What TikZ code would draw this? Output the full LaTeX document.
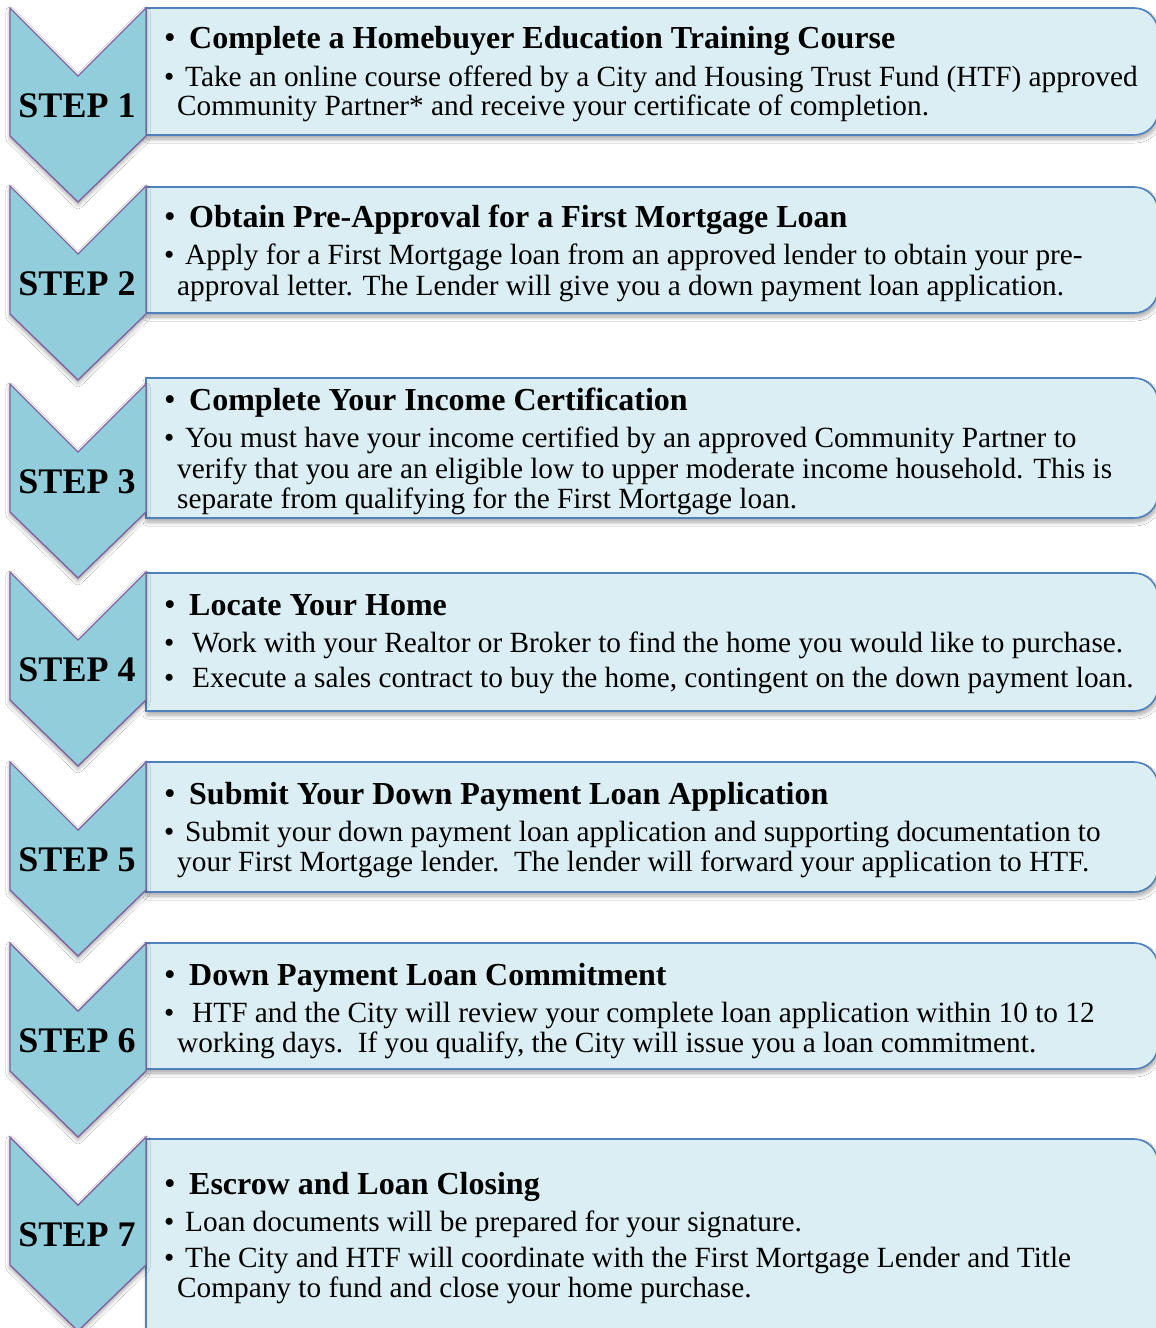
\documentclass[tikz,border=0pt]{standalone}
\usepackage{fontspec}
\setmainfont{Liberation Serif}
\usetikzlibrary{shadows.blur}
\definecolor{chevfill}{HTML}{92CDDC}
\definecolor{chevline}{HTML}{8064A2}
\definecolor{boxfill}{HTML}{DAEEF3}
\definecolor{boxline}{HTML}{4F81BD}
\tikzset{
  x=1pt, y=-1pt,
  chev/.style={fill=chevfill, draw=chevline, line width=1.4pt, line join=miter,
    blur shadow={shadow xshift=0pt, shadow yshift=-3pt, shadow blur steps=8, shadow blur radius=4pt, shadow opacity=35}},
  boxshape/.style={fill=boxfill, draw=boxline, line width=1.6pt,
    blur shadow={shadow xshift=1pt, shadow yshift=-4pt, shadow blur steps=8, shadow blur radius=4pt, shadow opacity=35}},
  steplabel/.style={font=\fontsize{36}{40}\selectfont\bfseries, anchor=base, inner sep=0pt},
  ttl/.style={font=\fontsize{32}{34}\selectfont\bfseries, anchor=base west, inner sep=0pt},
  txt/.style={font=\fontsize{29.3}{31}\selectfont, anchor=base west, inner sep=0pt},
  bul/.style={font=\fontsize{29.3}{31}\selectfont, anchor=base west, inner sep=0pt},
  tbul/.style={font=\fontsize{33}{35}\selectfont, anchor=base west, inner sep=0pt},
}
% chevron with top y=#1
\newcommand{\mychev}[1]{%
  \path[chev] (10,#1) -- (78,#1+68) -- (146,#1) -- (146,#1+128) -- (78,#1+194) -- (10,#1+128) -- cycle;}
% box from y=#1 to y=#2
\newcommand{\mybox}[2]{%
  \path[boxshape] (146,#1) [rounded corners=24pt] -- (1158,#1) -- (1158,#2) [sharp corners] -- (146,#2) -- cycle;}
\begin{document}
\begin{tikzpicture}
\useasboundingbox (0,0) rectangle (1156,1328);
\fill[white] (0,0) rectangle (1156,1328);

% ---- boxes and chevrons
\mybox{8}{135}    \mychev{8}
\mybox{187}{313}  \mychev{186}
\mybox{378}{518}  \mychev{384}
\mybox{573}{711}  \mychev{572}
\mybox{762}{892}  \mychev{762}
\mybox{943}{1069} \mychev{943}
\mybox{1139}{1350} \mychev{1137}

% ---- step labels
\node[steplabel] (l1) at (77,117) {STEP 1};
\node[steplabel] (l2) at (77,295) {STEP 2};
\node[steplabel] (l3) at (77,493) {STEP 3};
\node[steplabel] (l4) at (77,681) {STEP 4};
\node[steplabel] (l5) at (77,871) {STEP 5};
\node[steplabel] (l6) at (77,1052) {STEP 6};
\node[steplabel] (l7) at (77,1246) {STEP 7};

% ---- step 1
\node[tbul] (b1t) at (164,48) {•};
\node[ttl] (t1) at (189,48) {Complete a Homebuyer Education Training Course};
\node[bul] (b1a) at (164,86) {•};
\node[txt] (x1a) at (185,86) {Take an online course offered by a City and Housing Trust Fund (HTF) approved};
\node[txt] (x1b) at (177,115) {Community Partner* and receive your certificate of completion.};

% ---- step 2
\node[tbul] (b2t) at (164,227) {•};
\node[ttl] (t2) at (189,227) {Obtain Pre-Approval for a First Mortgage Loan};
\node[bul] (b2a) at (164,264) {•};
\node[txt] (x2a) at (185,264) {Apply for a First Mortgage loan from an approved lender to obtain your pre-};
\node[txt] (x2b) at (177,295) {approval letter. The Lender will give you a down payment loan application.};

% ---- step 3
\node[tbul] (b3t) at (164,410) {•};
\node[ttl] (t3) at (189,410) {Complete Your Income Certification};
\node[bul] (b3a) at (164,447) {•};
\node[txt] (x3a) at (185,447) {You must have your income certified by an approved Community Partner to};
\node[txt] (x3b) at (177,478) {verify that you are an eligible low to upper moderate income household. This is};
\node[txt] (x3c) at (177,508) {separate from qualifying for the First Mortgage loan.};

% ---- step 4
\node[tbul] (b4t) at (164,615) {•};
\node[ttl] (t4) at (189,615) {Locate Your Home};
\node[bul] (b4a) at (164,652) {•};
\node[txt] (x4a) at (192,652) {Work with your Realtor or Broker to find the home you would like to purchase.};
\node[bul] (b4b) at (164,687) {•};
\node[txt] (x4b) at (192,687) {Execute a sales contract to buy the home, contingent on the down payment loan.};

% ---- step 5
\node[tbul] (b5t) at (164,804) {•};
\node[ttl] (t5) at (189,804) {Submit Your Down Payment Loan Application};
\node[bul] (b5a) at (164,841) {•};
\node[txt] (x5a) at (185,841) {Submit your down payment loan application and supporting documentation to};
\node[txt] (x5b) at (177,871) {your First Mortgage lender.\ \ The lender will forward your application to HTF.};

% ---- step 6
\node[tbul] (b6t) at (164,985) {•};
\node[ttl] (t6) at (189,985) {Down Payment Loan Commitment};
\node[bul] (b6a) at (164,1022) {•};
\node[txt] (x6a) at (192,1022) {HTF and the City will review your complete loan application within 10 to 12};
\node[txt] (x6b) at (177,1052) {working days.\ \ If you qualify, the City will issue you a loan commitment.};

% ---- step 7
\node[tbul] (b7t) at (164,1194) {•};
\node[ttl] (t7) at (189,1194) {Escrow and Loan Closing};
\node[bul] (b7a) at (164,1231) {•};
\node[txt] (x7a) at (185,1231) {Loan documents will be prepared for your signature.};
\node[bul] (b7b) at (164,1267) {•};
\node[txt] (x7b) at (185,1267) {The City and HTF will coordinate with the First Mortgage Lender and Title};
\node[txt] (x7c) at (177,1297) {Company to fund and close your home purchase.};
\end{tikzpicture}
\end{document}
